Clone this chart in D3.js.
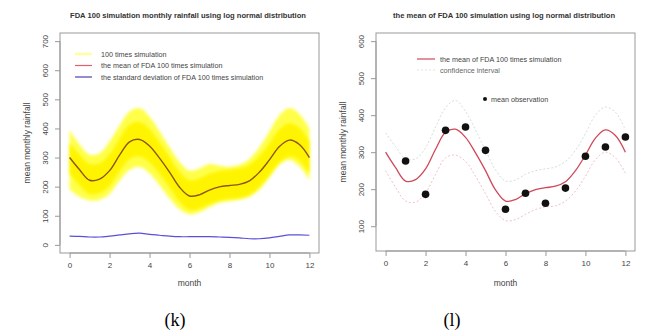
<!DOCTYPE html>
<html>
<head>
<meta charset="utf-8">
<script src="https://cdn.jsdelivr.net/npm/d3@7"></script>
<style>
    body { margin: 0; background: #fff; }
    svg { display: block; font-family: "Liberation Sans", Arial, sans-serif; }
</style>
</head>
<body>
<div id="chart"></div>
<script>

// half-month grid used by every curve
const months = [0, 0.5, 1, 1.5, 2, 2.5, 3, 3.5, 4, 4.5, 5, 5.5, 6, 6.5, 7, 7.5, 8, 8.5, 9, 9.5, 10, 10.5, 11, 11.5, 12];

// mean of the 100 simulations
const meanSim = [300, 258, 222, 226, 255, 308, 354, 362, 340, 298, 250, 198, 168, 172, 188, 199, 204, 208, 220, 250, 292, 338, 360, 345, 300];

// envelope of the 100 simulated curves (faint outer, dense inner)
const simOuterHi = [395, 345, 310, 315, 355, 410, 458, 470, 440, 390, 335, 285, 255, 262, 278, 272, 268, 275, 295, 335, 390, 445, 470, 450, 400];
const simOuterLo = [190, 165, 152, 155, 175, 220, 258, 268, 245, 205, 160, 122, 105, 112, 130, 145, 150, 155, 165, 190, 232, 275, 292, 270, 222];
const simInnerHi = [350, 310, 278, 280, 312, 365, 412, 422, 398, 352, 302, 250, 222, 228, 244, 254, 258, 262, 275, 305, 348, 396, 418, 402, 355];
const simInnerLo = [245, 205, 175, 178, 203, 252, 294, 304, 284, 244, 198, 148, 120, 125, 140, 152, 158, 162, 172, 200, 240, 284, 304, 290, 245];

// standard deviation of the simulations
const sdSim = [30, 29, 27, 27, 30, 34, 38, 40, 36, 33, 30, 28, 28, 28, 28, 27, 26, 24, 21, 21, 24, 29, 34, 34, 33];

// confidence interval of the mean
const ciHi = [352, 315, 282, 282, 312, 368, 420, 440, 410, 360, 305, 252, 222, 225, 240, 250, 255, 260, 275, 305, 350, 400, 422, 408, 360];
const ciLo = [250, 205, 168, 165, 190, 240, 285, 292, 275, 235, 188, 140, 115, 118, 132, 145, 152, 155, 168, 195, 235, 280, 300, 285, 243];

// observed monthly means
const obsMonths = [1, 2, 3, 4, 5, 6, 7, 8, 9, 10, 11, 12];
const obsMean = [276, 186, 359, 368, 305, 146, 189, 162, 203, 289, 314, 341];

const xTicks = [0, 2, 4, 6, 8, 10, 12];
const yTicksLeft = [0, 100, 200, 300, 400, 500, 600, 700];
const yTicksRight = [100, 200, 300, 400, 500, 600];

const width = 647, height = 331;

const svg = d3.select("#chart").append("svg")
    .attr("width", width)
    .attr("height", height);

// soft edge for the faint simulation envelope
svg.append("defs").append("filter")
    .attr("id", "soft")
    .attr("x", "-5%").attr("y", "-10%").attr("width", "110%").attr("height", "120%")
    .append("feGaussianBlur")
    .attr("stdDeviation", 1.8);

const textCol = "#444";
const boxCol = "#999";

function toPoints(xs, ys) {
    return xs.map((m, i) => ({m: m, v: ys[i]}));
}

/*
 * One R style panel: box, axes, title, axis labels
 */
function drawPanel(cfg) {
    let p = {};
    p.x = d3.scaleLinear().domain([-0.48, 12.48]).range([cfg.left, cfg.right]);
    p.y = d3.scaleLinear().domain(cfg.yDomain).range([cfg.bottom, cfg.top]);
    p.g = svg.append("g");
    p.layer = p.g.append("g");

    // x axis
    let xAxis = d3.axisBottom(p.x).tickValues(xTicks).tickSize(5).tickPadding(4);
    let gx = p.g.append("g")
        .attr("transform", "translate(0," + cfg.bottom + ")")
        .call(xAxis);
    gx.select(".domain").attr("stroke", boxCol)
        .attr("d", "M" + p.x(0) + ",0H" + p.x(12));
    gx.selectAll(".tick line").attr("stroke", boxCol);
    gx.selectAll(".tick text").attr("fill", textCol).attr("font-size", 8);

    // y axis, labels turned like R (las = 0)
    let yAxis = d3.axisLeft(p.y).tickValues(cfg.yTicks).tickSize(5).tickPadding(0);
    let gy = p.g.append("g")
        .attr("transform", "translate(" + cfg.left + ",0)")
        .call(yAxis);
    gy.select(".domain").attr("stroke", boxCol)
        .attr("d", "M0," + p.y(cfg.yTicks[0]) + "V" + p.y(cfg.yTicks[cfg.yTicks.length - 1]));
    gy.selectAll(".tick line").attr("stroke", boxCol);
    gy.selectAll(".tick text")
        .attr("fill", textCol)
        .attr("font-size", 8)
        .attr("x", 0).attr("dy", null)
        .attr("text-anchor", "middle")
        .attr("transform", "translate(-12,0) rotate(-90)");

    // box
    p.g.append("rect")
        .attr("x", cfg.left).attr("y", cfg.top)
        .attr("width", cfg.right - cfg.left)
        .attr("height", cfg.bottom - cfg.top)
        .attr("fill", "none")
        .attr("stroke", boxCol);

    p.g.append("text")
        .attr("x", cfg.titleX).attr("y", 18)
        .attr("text-anchor", "middle")
        .attr("font-size", 7.6)
        .attr("font-weight", "bold")
        .attr("fill", "#333")
        .text(cfg.title);

    p.g.append("text")
        .attr("x", (cfg.left + cfg.right) / 2).attr("y", 286)
        .attr("text-anchor", "middle")
        .attr("font-size", 8.5)
        .attr("fill", textCol)
        .text("month");

    p.g.append("text")
        .attr("transform", "translate(" + (cfg.left - 30) + "," + ((cfg.top + cfg.bottom) / 2) + ") rotate(-90)")
        .attr("text-anchor", "middle")
        .attr("font-size", 8.5)
        .attr("fill", textCol)
        .text("mean monthly rainfall");

    p.line = d3.line().x(d => p.x(d.m)).y(d => p.y(d.v)).curve(d3.curveCatmullRom);
    p.area = d3.area().x(d => p.x(d.m)).y0(d => p.y(d.lo)).y1(d => p.y(d.hi)).curve(d3.curveCatmullRom);
    return p;
}

function band(lo, hi) {
    return months.map((m, i) => ({m: m, lo: lo[i], hi: hi[i]}));
}

// ---------- left panel (k) ----------
const left = drawPanel({
    left: 60, right: 319, top: 33, bottom: 253,
    yDomain: [-28, 728], yTicks: yTicksLeft,
    titleX: 188,
    title: "FDA 100 simulation monthly rainfall using log normal distribution"
});

left.layer.append("path")
    .attr("d", left.area(band(simOuterLo, simOuterHi)))
    .attr("fill", "#ffff48")
    .attr("filter", "url(#soft)");
left.layer.append("path")
    .attr("d", left.area(band(simInnerLo, simInnerHi)))
    .attr("fill", "#fff400")
    .attr("filter", "url(#soft)");
left.layer.append("path")
    .attr("d", left.line(toPoints(months, meanSim)))
    .attr("fill", "none").attr("stroke", "#8e5418").attr("stroke-width", 1.4);
left.layer.append("path")
    .attr("d", left.line(toPoints(months, sdSim)))
    .attr("fill", "none").attr("stroke", "#5a50d8").attr("stroke-width", 1.2);

const legendLeft = [
    {label: "100 times simulation", color: "#ffffa0", w: 2.5},
    {label: "the mean of FDA 100 times simulation", color: "#e06070", w: 1.2},
    {label: "the standard deviation of FDA 100 times simulation", color: "#4a40b0", w: 1.2}
];
legendLeft.forEach((d, i) => {
    let yy = 54 + i * 11.5;
    left.g.append("line")
        .attr("x1", 75).attr("x2", 92).attr("y1", yy).attr("y2", yy)
        .attr("stroke", d.color).attr("stroke-width", d.w);
    left.g.append("text")
        .attr("x", 101).attr("y", yy + 2.5)
        .attr("font-size", 7.2).attr("fill", textCol)
        .text(d.label);
});

// ---------- right panel (l) ----------
const right = drawPanel({
    left: 376, right: 635, top: 33, bottom: 251,
    yDomain: [33, 622], yTicks: yTicksRight,
    titleX: 504,
    title: "the mean of FDA 100 simulation using log normal distribution"
});

right.layer.append("path")
    .attr("d", right.line(toPoints(months, ciHi)))
    .attr("fill", "none").attr("stroke", "#d6ddda").attr("stroke-width", 1)
    .attr("stroke-dasharray", "2,2");
right.layer.append("path")
    .attr("d", right.line(toPoints(months, ciLo)))
    .attr("fill", "none").attr("stroke", "#f2c0c8").attr("stroke-width", 1)
    .attr("stroke-dasharray", "2,2");
right.layer.append("path")
    .attr("d", right.line(toPoints(months, meanSim)))
    .attr("fill", "none").attr("stroke", "#d0485a").attr("stroke-width", 1.3);

right.layer.selectAll("circle")
    .data(toPoints(obsMonths, obsMean))
    .enter().append("circle")
    .attr("cx", d => right.x(d.m))
    .attr("cy", d => right.y(d.v))
    .attr("r", 3.8)
    .attr("fill", "#111");

right.g.append("line")
    .attr("x1", 417).attr("x2", 435).attr("y1", 59).attr("y2", 59)
    .attr("stroke", "#d0485a").attr("stroke-width", 1.2);
right.g.append("text")
    .attr("x", 440).attr("y", 61.5)
    .attr("font-size", 7.2).attr("fill", textCol)
    .text("the mean of FDA 100 times simulation");
right.g.append("line")
    .attr("x1", 417).attr("x2", 435).attr("y1", 70).attr("y2", 70)
    .attr("stroke", "#dde4e0").attr("stroke-width", 1)
    .attr("stroke-dasharray", "2,2");
right.g.append("text")
    .attr("x", 440).attr("y", 72.5)
    .attr("font-size", 7.2).attr("fill", "#666")
    .text("confidence interval");
right.g.append("circle")
    .attr("cx", 485).attr("cy", 99).attr("r", 2)
    .attr("fill", "#111");
right.g.append("text")
    .attr("x", 491).attr("y", 101.5)
    .attr("font-size", 7.2).attr("fill", textCol)
    .text("mean observation");

// ---------- captions ----------
[{t: "(k)", x: 175}, {t: "(l)", x: 452}].forEach(d => {
    svg.append("text")
        .attr("x", d.x).attr("y", 326)
        .attr("text-anchor", "middle")
        .attr("font-family", "'Liberation Serif', 'Times New Roman', serif")
        .attr("font-size", 18)
        .attr("fill", "#000")
        .text(d.t);
});

</script>
</body>
</html>
